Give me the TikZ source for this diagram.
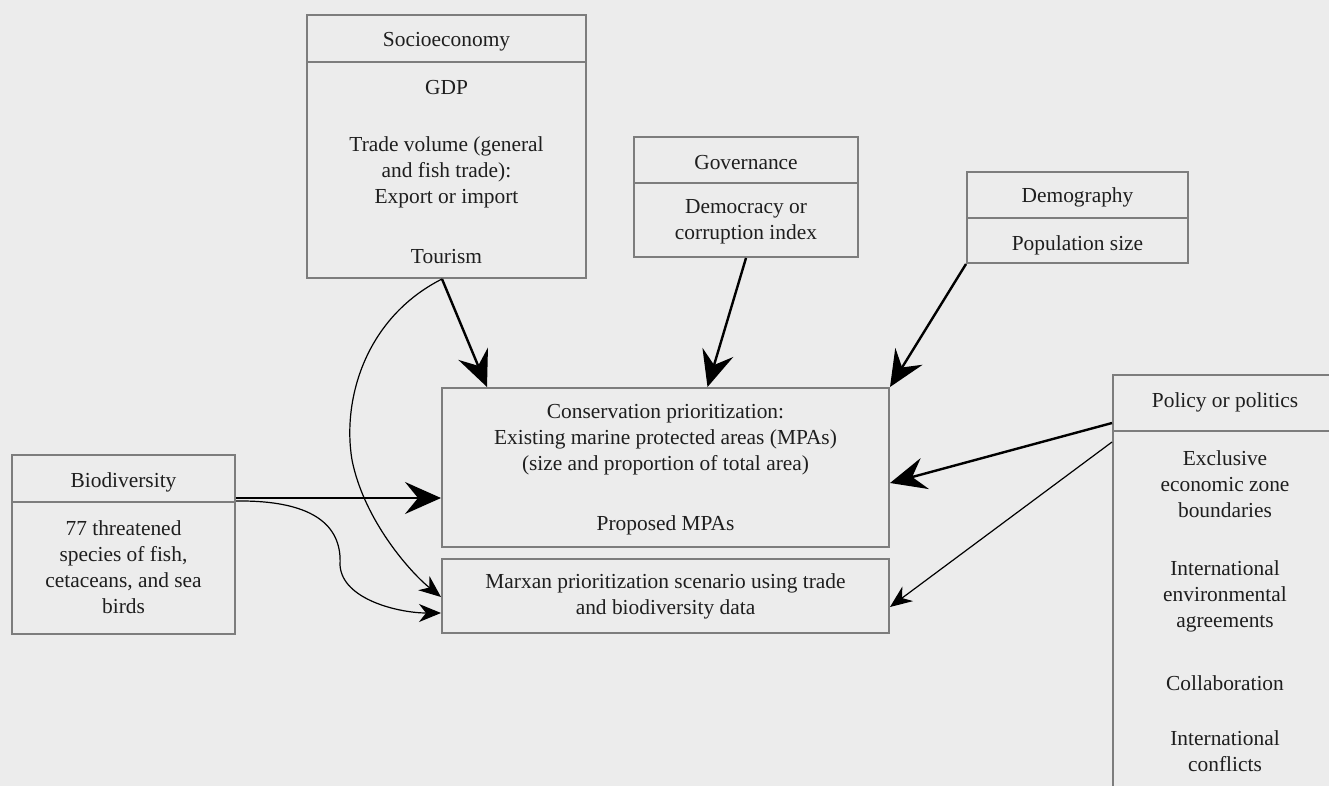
\documentclass[tikz,border=0pt]{standalone}
\usepackage{fontspec}
\setmainfont{Liberation Serif}
\usetikzlibrary{arrows.meta,calc}
\definecolor{bg}{RGB}{236,236,236}
\definecolor{boxgray}{RGB}{125,125,125}
\definecolor{ink}{RGB}{30,30,30}
\begin{document}
\begin{tikzpicture}[x=1pt,y=-1pt,
  font=\fontsize{21.4}{26}\selectfont,
  box/.style={draw=boxgray, line width=2pt, inner sep=0pt, fill=none},
  txt/.style={inner sep=0pt, align=center, text=ink},
  bigarrow/.style={draw=black, line width=2.4pt, -{Stealth[length=36pt,width=32pt,inset=13pt]}},
  thinarrow/.style={draw=black, line width=1.2pt, -{Stealth[length=22pt,width=18pt,inset=7pt]}}]
\useasboundingbox (0,0) rectangle (1329,786);
\fill[bg] (0,0) rectangle (1329,786);
\clip (0,0) rectangle (1329,786);

% Socioeconomy
\node[box, minimum width=279pt, minimum height=47pt] (socT) at (446.5,38.5) {};
\node[box, minimum width=279pt, minimum height=216pt] (socB) at (446.5,170) {};
\node[txt] (socTt) at (446.5,42) {Socioeconomy};
\node[txt] (gdp) at (446.5,88) {GDP};
\node[txt] (trade) at (446.5,172) {Trade volume (general\\and fish trade):\\Export or import};
\node[txt] (tour) at (446.5,257) {Tourism};

% Governance
\node[box, minimum width=224pt, minimum height=46pt] (govT) at (746,160) {};
\node[box, minimum width=224pt, minimum height=74pt] (govB) at (746,220) {};
\node[txt] (govTt) at (746,163) {Governance};
\node[txt] (govBt) at (746,222) {Democracy or\\corruption index};

% Demography
\node[box, minimum width=221pt, minimum height=46pt] (demT) at (1077.5,195) {};
\node[box, minimum width=221pt, minimum height=45pt] (demB) at (1077.5,240.5) {};
\node[txt] (demTt) at (1077.5,197) {Demography};
\node[txt] (demBt) at (1077.5,245) {Population size};

% Policy
\node[box, minimum width=226pt, minimum height=56pt] (polT) at (1226,403) {};
\node[box, minimum width=226pt, minimum height=369pt] (polB) at (1226,615.5) {};
\node[txt] (polTt) at (1225,402) {Policy or politics};
\node[txt] (eez) at (1225,484.5) {Exclusive\\economic zone\\boundaries};
\node[txt] (iea) at (1225,596) {International\\environmental\\agreements};
\node[txt] (colab) at (1225,683) {Collaboration};
\node[txt] (conf) at (1225,751) {International\\conflicts};

% Biodiversity
\node[box, minimum width=223pt, minimum height=47pt] (bioT) at (123.5,478.5) {};
\node[box, minimum width=223pt, minimum height=132pt] (bioB) at (123.5,568) {};
\node[txt] (bioTt) at (123.5,482) {Biodiversity};
\node[txt] (bioBt) at (123.5,567.5) {77 threatened\\species of fish,\\cetaceans, and sea\\birds};

% Conservation prioritization
\node[box, minimum width=447pt, minimum height=159pt] (cons) at (665.5,467.5) {};
\node[txt] (consT) at (665.5,440) {Conservation prioritization:\\Existing marine protected areas (MPAs)\\(size and proportion of total area)};
\node[txt] (prop) at (665.5,525) {Proposed MPAs};

% Marxan
\node[box, minimum width=447pt, minimum height=74pt] (marx) at (665.5,596) {};
\node[txt] (marxT) at (665.5,596) {Marxan prioritization scenario using trade\\and biodiversity data};

% connectors
\coordinate (tourOut) at ([xshift=-4.5pt]socB.south);
\draw[bigarrow] (tourOut) -- ([xshift=46pt]cons.north west);
\draw[thinarrow] (tourOut) .. controls (365,318) and (342,400) .. (352,460)
   .. controls (364,520) and (410,572) .. ([yshift=-1pt]marx.west);
\draw[bigarrow] (govB.south) -- ([xshift=42pt]cons.north);
\draw[bigarrow] (demB.south west) -- (cons.north east);
\draw[bigarrow] ([yshift=9pt]polT.south west) -- ([yshift=-15.5pt]cons.east);
\draw[thinarrow] ([yshift=-12pt]polB.north west) -- ([yshift=-11pt]marx.east);
\coordinate (bioOut) at ([yshift=5pt]bioT.south east);
\draw[bigarrow] (bioOut) -- (bioOut -| cons.west);
\draw[thinarrow] (bioB.north east) .. controls (320,500) and (342,530) .. (340,565)
   .. controls (342,600) and (400,613) .. ([yshift=-17pt]marx.west);
\end{tikzpicture}
\end{document}
